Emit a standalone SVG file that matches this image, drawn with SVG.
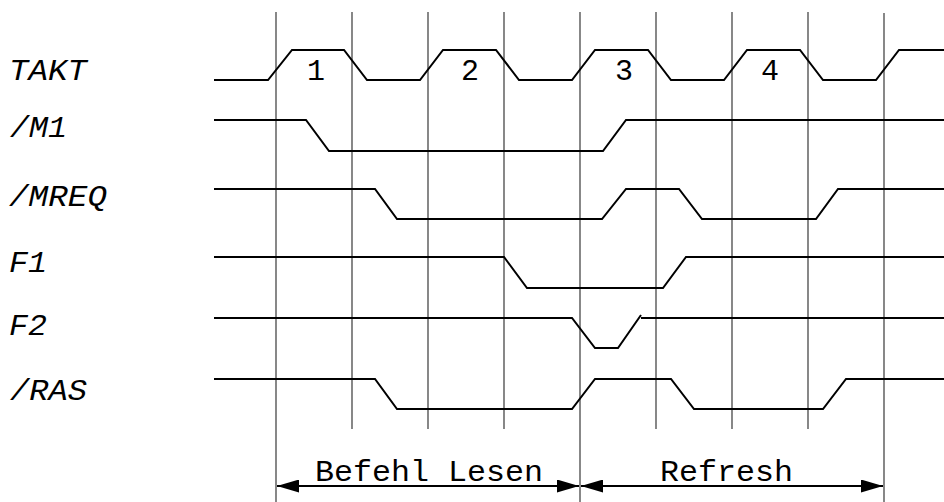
<svg xmlns="http://www.w3.org/2000/svg" width="944" height="502" viewBox="0 0 944 502">
<defs>
<style>
.grid{stroke:#555;stroke-width:1.4;fill:none}
.sig{stroke:#000;stroke-width:2;fill:none;stroke-linejoin:miter}
.lbl{font-family:"Liberation Mono","DejaVu Sans Mono",monospace;font-size:30px;font-style:italic;fill:#000}
.txt{font-family:"Liberation Mono","DejaVu Sans Mono",monospace;font-size:30px;fill:#000}
.dim{stroke:#000;stroke-width:2;fill:none}
</style>
<marker id="ah" viewBox="0 0 22 13" refX="22" refY="6.5" markerWidth="22" markerHeight="13" markerUnits="userSpaceOnUse" orient="auto-start-reverse">
<path d="M0,0 L22,6.5 L0,13 Z" fill="#000"/>
</marker>
</defs>
<rect width="944" height="502" fill="#fff"/>
<g id="grid">
<line class="grid" x1="276" y1="12" x2="276" y2="502"/>
<line class="grid" x1="352" y1="12" x2="352" y2="429"/>
<line class="grid" x1="428" y1="12" x2="428" y2="429"/>
<line class="grid" x1="504" y1="12" x2="504" y2="429"/>
<line class="grid" x1="580" y1="12" x2="580" y2="502"/>
<line class="grid" x1="656" y1="12" x2="656" y2="429"/>
<line class="grid" x1="732" y1="12" x2="732" y2="429"/>
<line class="grid" x1="808" y1="12" x2="808" y2="429"/>
<line class="grid" x1="884" y1="13" x2="884" y2="502"/>
</g>
<g id="takt">
<text class="lbl" x="9" y="80" textLength="78" lengthAdjust="spacingAndGlyphs">TAKT</text>
<path class="sig" d="M214,80 H268 L292,50 H344 L367,80 H420 L443,50 H496 L519,80 H572 L595,50 H648 L671,80 H724 L747,50 H800 L823,80 H876 L899,50 H944"/>
<text class="txt" x="316" y="80" text-anchor="middle">1</text>
<text class="txt" x="470" y="80" text-anchor="middle">2</text>
<text class="txt" x="624" y="80" text-anchor="middle">3</text>
<text class="txt" x="770" y="80" text-anchor="middle">4</text>
</g>
<g id="m1">
<text class="lbl" x="10" y="137" textLength="57" lengthAdjust="spacingAndGlyphs">/M1</text>
<path class="sig" d="M214,120 H306 L329,151 H603 L626,120 H944"/>
</g>
<g id="mreq">
<text class="lbl" x="9" y="206" textLength="98" lengthAdjust="spacingAndGlyphs">/MREQ</text>
<path class="sig" d="M214,189 H375 L397,219 H602 L626,189 H679 L702,219 H816 L838,189 H944"/>
</g>
<g id="f1">
<text class="lbl" x="9" y="272" textLength="38" lengthAdjust="spacingAndGlyphs">F1</text>
<path class="sig" d="M214,257 H504 L527,288 H663 L686,257 H944"/>
</g>
<g id="f2">
<text class="lbl" x="9" y="335" textLength="38" lengthAdjust="spacingAndGlyphs">F2</text>
<path class="sig" d="M214,318 H572 L595,348 H618 L641,315"/>
<path class="sig" d="M641,318 H944"/>
</g>
<g id="ras">
<text class="lbl" x="10" y="400" textLength="77" lengthAdjust="spacingAndGlyphs">/RAS</text>
<path class="sig" d="M214,379 H375 L397,409 H572 L595,379 H671 L694,409 H823 L846,379 H944"/>
</g>
<g id="connectors">
<line class="dim" x1="277" y1="486" x2="579" y2="486" marker-start="url(#ah)" marker-end="url(#ah)"/>
<line class="dim" x1="581" y1="486" x2="883" y2="486" marker-start="url(#ah)" marker-end="url(#ah)"/>
</g>
<g id="phase-labels">
<text class="txt" x="315" y="481" textLength="228" lengthAdjust="spacingAndGlyphs">Befehl Lesen</text>
<text class="txt" x="660" y="481" textLength="133" lengthAdjust="spacingAndGlyphs">Refresh</text>
</g>
</svg>
